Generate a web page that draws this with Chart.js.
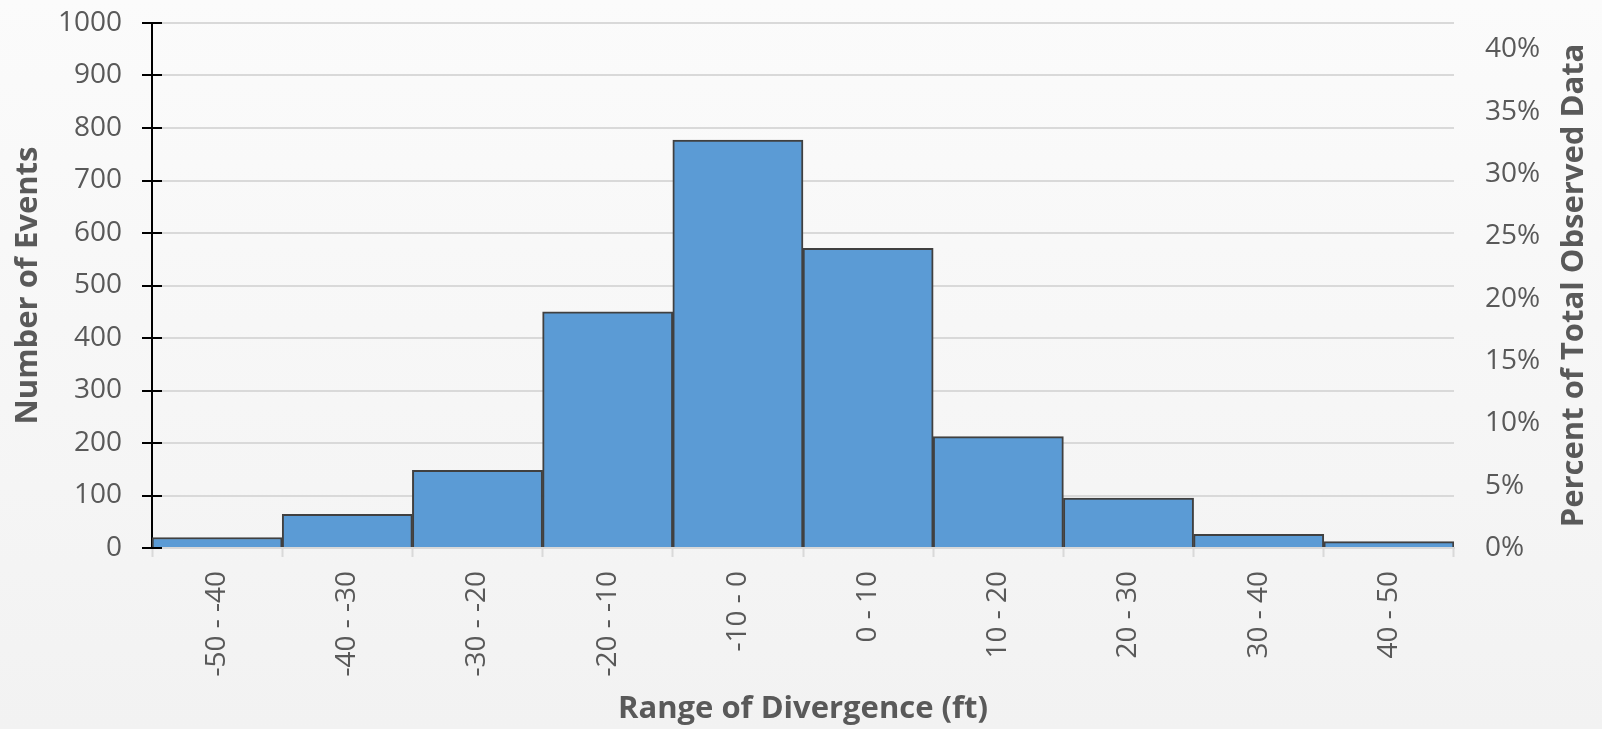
<!DOCTYPE html>
<html>
<head>
<meta charset="utf-8">
<script src="https://cdn.jsdelivr.net/npm/chart.js@4/dist/chart.umd.min.js"></script>
<style>
  html, body { margin: 0; padding: 0; }
  body {
    width: 1602px; height: 729px; overflow: hidden;
    background: linear-gradient(to bottom, #fbfbfb 0%, #f2f2f2 100%);
  }
  canvas { display: block; }
</style>
</head>
<body>
<canvas id="chart" width="1602" height="729"></canvas>
<script>
// Divergence bins (ft) and event counts per bin
const categories = ['-50 - -40', '-40 - -30', '-30 - -20', '-20 - -10', '-10 - 0',
                    '0 - 10', '10 - 20', '20 - 30', '30 - 40', '40 - 50'];
const eventCounts = [20, 64, 148, 450, 777, 571, 212, 95, 26, 12];

// Axis settings
const countMax = 1000;
const countStep = 100;
const percentStep = 0.05;

const totalEvents = eventCounts.reduce((a, b) => a + b, 0);

const FONT = '"Open Sans", "Noto Sans", sans-serif';
const TEXT_COLOR = '#595959';
const GRID_COLOR = '#d9d9d9';

// Axis titles, drawn reading bottom-to-top on both sides
const axisTitles = {
  id: 'axisTitles',
  afterDraw(chart) {
    const { ctx, chartArea } = chart;
    const midY = (chartArea.top + chartArea.bottom) / 2;
    ctx.save();
    ctx.fillStyle = TEXT_COLOR;
    ctx.font = 'bold 31px ' + FONT;
    ctx.textAlign = 'center';
    ctx.textBaseline = 'middle';

    ctx.save();
    ctx.translate(28, midY);
    ctx.rotate(-Math.PI / 2);
    ctx.fillText('Number of Events', 0, 0);
    ctx.restore();

    ctx.save();
    ctx.translate(1574, midY);
    ctx.rotate(-Math.PI / 2);
    ctx.fillText('Percent of Total Observed Data', 0, 0);
    ctx.restore();

    ctx.fillText('Range of Divergence (ft)', (chartArea.left + chartArea.right) / 2, 709);
    ctx.restore();
  }
};

// Inner half of the cross tick marks on the count axis
const crossTicks = {
  id: 'crossTicks',
  afterDraw(chart) {
    const { ctx } = chart;
    const scale = chart.scales.y;
    ctx.save();
    ctx.strokeStyle = '#000';
    ctx.lineWidth = 2;
    scale.ticks.forEach(t => {
      const py = Math.round(scale.getPixelForValue(t.value));
      ctx.beginPath();
      ctx.moveTo(scale.right, py);
      ctx.lineTo(scale.right + 10, py);
      ctx.stroke();
    });
    ctx.restore();
  }
};

new Chart(document.getElementById('chart'), {
  type: 'bar',
  data: {
    labels: categories,
    datasets: [{
      label: 'Number of Events',
      data: eventCounts,
      backgroundColor: '#5b9bd5',
      borderColor: '#404040',
      borderWidth: 2,
      barPercentage: 1,
      categoryPercentage: 1,
      yAxisID: 'y'
    }]
  },
  options: {
    responsive: false,
    animation: false,
    layout: { padding: { top: 23, left: 0, right: 0, bottom: 0 } },
    plugins: {
      legend: { display: false },
      tooltip: { enabled: false }
    },
    scales: {
      x: {
        position: 'bottom',
        afterFit(s) { s.height = 181; s.paddingLeft = 0; s.paddingRight = 0; },
        grid: {
          offset: true,
          drawOnChartArea: false,
          tickLength: 9,
          tickColor: GRID_COLOR,
          tickWidth: 2
        },
        border: { color: GRID_COLOR, width: 2 },
        ticks: {
          color: TEXT_COLOR,
          font: { family: FONT, size: 28 },
          minRotation: 90,
          maxRotation: 90,
          autoSkip: false,
          padding: 14
        }
      },
      y: {
        position: 'left',
        min: 0,
        max: countMax,
        afterFit(s) { s.width = 152; s.paddingTop = 0; s.paddingBottom = 0; },
        grid: {
          color: GRID_COLOR,
          lineWidth: 2,
          tickColor: '#000',
          tickLength: 10,
          tickWidth: 2
        },
        border: { color: '#000', width: 2 },
        ticks: {
          stepSize: countStep,
          color: TEXT_COLOR,
          font: { family: FONT, size: 28 },
          padding: 20,
          callback: v => String(v)
        }
      },
      y1: {
        position: 'right',
        min: 0,
        max: countMax / totalEvents,
        afterFit(s) { s.width = 148; s.paddingTop = 0; s.paddingBottom = 0; },
        afterBuildTicks(s) {
          const ticks = [];
          for (let i = 0; i * percentStep <= s.max + 1e-9; i++) {
            ticks.push({ value: i * percentStep });
          }
          s.ticks = ticks;
        },
        grid: { display: false, drawTicks: false },
        border: { display: false },
        ticks: {
          color: TEXT_COLOR,
          font: { family: FONT, size: 28 },
          padding: 31,
          callback: v => Math.round(v * 100) + '%'
        }
      }
    }
  },
  plugins: [axisTitles, crossTicks]
});
</script>
</body>
</html>
